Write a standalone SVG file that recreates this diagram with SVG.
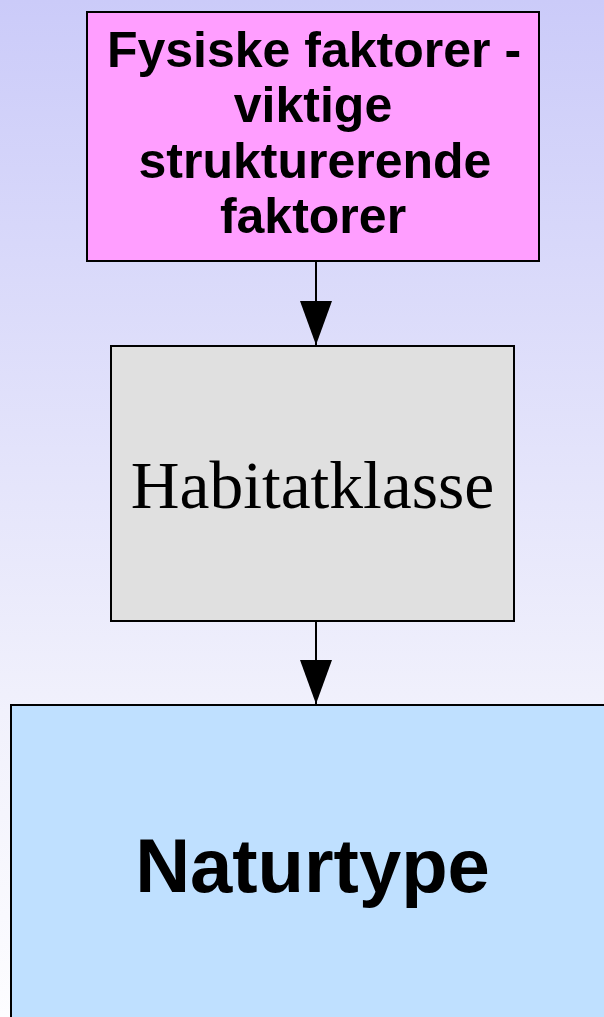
<svg xmlns="http://www.w3.org/2000/svg" width="604" height="1017" viewBox="0 0 604 1017">
  <defs>
    <linearGradient id="bg" x1="0" y1="0" x2="0" y2="1">
      <stop offset="0" stop-color="#cbcbf9"/>
      <stop offset="0.7" stop-color="#f1f1fc"/>
      <stop offset="1" stop-color="#fdfdff"/>
    </linearGradient>
    <!-- filled triangular arrowhead, 44 long and 32 wide -->
    <marker id="arrow" markerUnits="userSpaceOnUse" markerWidth="44" markerHeight="32" refX="44" refY="16" orient="auto" viewBox="0 0 44 32">
      <path d="M0,0 L44,16 L0,32 Z" fill="#000"/>
    </marker>
    <style>
      .box { stroke: #000; stroke-width: 2; }
      .edge { stroke: #000; stroke-width: 2; fill: none; }
      .sans { font-family: "Liberation Sans", Arial, sans-serif; font-weight: bold; fill: #000; text-anchor: middle; }
      .serif { font-family: "Liberation Serif", "Times New Roman", serif; fill: #000; text-anchor: middle; }
    </style>
  </defs>

  <rect x="0" y="0" width="604" height="1017" fill="url(#bg)"/>

  <g id="connectors">
    <path class="edge" d="M316,262 L316,345" marker-end="url(#arrow)"/>
    <path class="edge" d="M316,622 L316,704" marker-end="url(#arrow)"/>
  </g>

  <g id="fysiske">
    <rect class="box" x="87" y="12" width="452" height="249" fill="#ff9eff"/>
    <text class="sans" font-size="50" x="314" y="67">Fysiske faktorer -</text>
    <text class="sans" font-size="50" x="313" y="122">viktige</text>
    <text class="sans" font-size="50" x="315" y="178">strukturerende</text>
    <text class="sans" font-size="50" x="313" y="233">faktorer</text>
  </g>

  <g id="habitatklasse">
    <rect class="box" x="111" y="346" width="403" height="275" fill="#e0e0e0"/>
    <text class="serif" font-size="67.5" x="312.5" y="508">Habitatklasse</text>
  </g>

  <g id="naturtype">
    <rect class="box" x="11" y="705" width="610" height="330" fill="#bfe0ff"/>
    <text class="sans" font-size="76" x="312.5" y="892">Naturtype</text>
  </g>
</svg>
